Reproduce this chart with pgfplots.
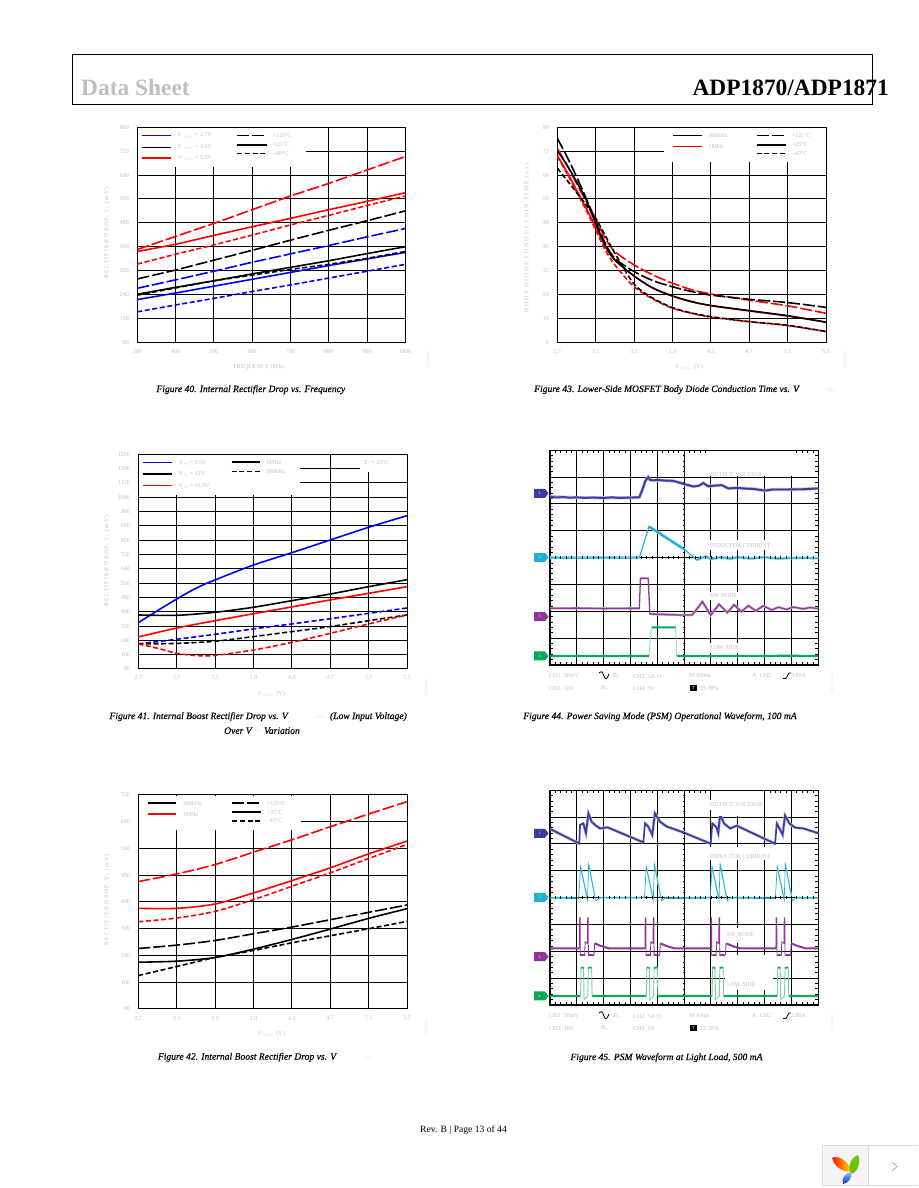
\documentclass[border=0pt]{standalone}
\usepackage{fontspec}
\setmainfont{Liberation Serif}
\usepackage{pgfplots}
\pgfplotsset{compat=1.18}
\definecolor{tg}{HTML}{BEBEBE}
\definecolor{tl}{HTML}{DDDDDD}
\definecolor{cha}{HTML}{3B3E9C}
\definecolor{chb}{HTML}{1CB4D4}
\definecolor{chc}{HTML}{90359A}
\definecolor{chd}{HTML}{0BA858}
\newcommand{\tickf}{\fontsize{6}{7}\selectfont}
\newcommand{\capf}{\fontsize{9.6}{11}\selectfont\itshape\addfontfeature{FakeBold=0.35}}
\newcommand{\subs}[1]{\raisebox{-1.3pt}{\textcolor{tl}{\fontsize{3.8}{4}\selectfont #1}}}
\newcommand{\lbl}[3]{\node[anchor=west,inner sep=0pt,text=tg,font=\tickf] at (#1,#2) {#3};}
\newcommand{\capt}[3]{\node[anchor=center,inner sep=0pt,font=\capf] at (#1,#2) {#3};}
\newcommand{\mask}[4]{\fill[white] (#1,#2) rectangle (#3,#4);}
\newcommand{\strip}[3]{\node[rotate=90,inner sep=0pt,text=tl,font=\fontsize{4}{4}\selectfont] at (#1,#2) {#3};}
\newcommand{\ylab}[3]{\node[rotate=90,inner sep=0pt,text=tg,font=\tickf\addfontfeature{LetterSpace=#3}] at (#1) {#2};}
\tikzset{
 ld/.style={dash pattern=on 12pt off 3pt},
 sd/.style={dash pattern=on 5pt off 2.6pt},
 ser/.style={line width=1.6pt},
}
\pgfplotsset{
 chart/.style={scale only axis,anchor=south west,
  axis line style={black,line width=1pt},
  grid=major,major grid style={black,line width=1pt},
  major tick length=0pt,
  xtick pos=bottom,ytick pos=left,
  /pgf/number format/assume math mode=true,
  /pgf/number format/1000 sep={},
  tick label style={font=\tickf,text=tg},
  xticklabel style={yshift=-3.5pt},
  yticklabel style={xshift=-5pt},
 },
 vx/.style={xmin=2.7,xmax=5.5,xtick={2.7,3.1,3.5,3.9,4.3,4.7,5.1,5.5},
  xticklabel style={/pgf/number format/.cd,fixed,fixed zerofill,precision=1,assume math mode=true}},
 scope/.style={scale only axis,anchor=south west,xmin=0,xmax=10,ymin=0,ymax=8,
  width=268.3pt,height=214.7pt,
  axis line style={black,line width=1.3pt},
  xtick={0,...,10},ytick={0,...,8},minor x tick num=4,minor y tick num=4,
  xticklabels={},yticklabels={},
  grid=major,major grid style={black,line width=1pt},
  major tick length=0pt,minor tick length=3pt,
  minor tick style={black,line width=.8pt},tick align=inside,
  unbounded coords=jump},
}
\begin{document}
\begin{tikzpicture}
\path[use as bounding box] (0,0) rectangle (918pt,1188pt);

% ---------- Figure 40
\begin{axis}[chart,at={(137.3pt,845.7pt)},width=268pt,height=215pt,
 xmin=300,xmax=1000,ymin=80,ymax=800,
 xtick={300,400,500,600,700,800,900,1000},ytick={80,160,240,320,400,480,560,640,720,800}]
\addplot[red,ser,ld] coordinates {(300,391)(500,478)(700,570)(800,612)(900,657)(1000,702)};
\addplot[red,ser] coordinates {(300,384)(400,408)(500,438)(600,467)(700,495)(800,524)(900,552)(1000,581)};
\addplot[red,ser,sd] coordinates {(300,342)(400,375)(500,406)(600,439)(700,473)(800,505)(900,538)(1000,570)};
\addplot[black,ser,ld] coordinates {(300,292)(400,322)(500,355)(600,388)(700,422)(800,455)(900,487)(1000,520)};
\addplot[blue,ser,ld] coordinates {(300,261)(400,289)(500,318)(600,348)(700,376)(800,404)(900,433)(1000,461)};
\addplot[blue,ser] coordinates {(300,223)(400,245)(500,268)(600,291)(700,314)(800,337)(900,359)(1000,381)};
\addplot[blue,ser,sd] coordinates {(300,182)(400,205)(500,227)(600,250)(700,272)(800,295)(900,318)(1000,341)};
\addplot[black,ser] coordinates {(300,241)(400,264)(500,286)(600,309)(700,331)(800,353)(900,377)(1000,400)};
\addplot[black,ser,sd] coordinates {(300,238)(500,286)(600,305)(700,324)(800,341)(900,361)(1000,384)};
\end{axis}

% ---------- Figure 43
\begin{axis}[chart,vx,at={(557.3pt,845.7pt)},width=268.7pt,height=215pt,
 ymin=8,ymax=80,ytick={8,16,24,32,40,48,56,64,72,80}]
\addplot[red,ser,ld,smooth] coordinates {(2.7,73)(2.8,67.4)(2.9,61.2)(3.0,55.3)(3.1,49.5)(3.2,42.8)(3.3,38.4)(3.5,33.9)(3.7,30.5)(3.9,27.8)(4.1,25.6)(4.3,24.2)(4.7,22.1)(5.1,20.2)(5.5,17.7)};
\addplot[red,ser,sd,smooth] coordinates {(2.7,70.2)(2.8,64.6)(2.9,58.4)(3.0,52.3)(3.1,45.6)(3.2,38.9)(3.3,33.9)(3.5,26.6)(3.7,22.4)(3.9,19.4)(4.1,17.7)(4.3,16.4)(4.7,14.9)(5.1,13.6)(5.5,11.6)};
\addplot[red,ser,smooth] coordinates {(2.7,70.5)(2.8,65.1)(2.9,59)(3.0,52.9)(3.1,46.7)(3.2,40)(3.3,35.6)(3.5,30.2)(3.7,26.1)(3.9,23.5)(4.1,21.6)(4.3,20.3)(4.7,18.5)(5.1,16.8)(5.5,14.8)};
\addplot[black,ser,ld,smooth] coordinates {(2.7,76.3)(2.8,70.2)(2.9,63.5)(3.0,56.2)(3.1,48.6)(3.2,41.1)(3.3,36.1)(3.5,31.7)(3.7,28.6)(3.9,26.6)(4.1,25)(4.3,23.8)(4.7,22.4)(5.1,21.3)(5.5,19.7)};
\addplot[black,ser,sd,smooth] coordinates {(2.7,66.3)(2.8,62.3)(2.9,58.2)(3.0,54)(3.1,49.5)(3.2,43.7)(3.3,37.8)(3.5,27.5)(3.7,22.7)(3.9,19.6)(4.1,17.8)(4.3,16.6)(4.7,14.9)(5.1,13.7)(5.5,11.6)};
\addplot[black,ser,smooth] coordinates {(2.7,72.1)(2.8,67.4)(2.9,61.8)(3.0,55.7)(3.1,47.8)(3.2,40.4)(3.3,35.6)(3.5,30.2)(3.7,26.1)(3.9,23.5)(4.1,21.6)(4.3,20.3)(4.7,18.6)(5.1,16.9)(5.5,14.7)};
\end{axis}

% ---------- Figure 41
\begin{axis}[chart,vx,at={(138.3pt,519pt)},width=268.7pt,height=214.7pt,
 ymin=80,ymax=1280,ytick={80,160,240,320,400,480,560,640,720,800,880,960,1040,1120,1200,1280}]
\addplot[blue,ser,smooth] coordinates {(2.7,339)(2.9,406)(3.1,471)(3.3,531)(3.5,578)(3.9,661)(4.3,730)(4.7,801)(5.1,872)(5.5,937)};
\addplot[black,ser,smooth] coordinates {(2.7,382)(3.1,380)(3.5,397)(3.9,425)(4.3,462)(4.7,499)(5.1,540)(5.5,579)};
\addplot[red,ser,smooth] coordinates {(2.7,259)(3.1,309)(3.5,350)(3.9,389)(4.3,427)(4.7,466)(5.1,503)(5.5,540)};
\addplot[blue,ser,sd,smooth] coordinates {(2.7,220)(3.1,246)(3.5,274)(3.9,304)(4.3,332)(4.7,361)(5.1,391)(5.5,421)};
\addplot[black,ser,sd,smooth] coordinates {(2.7,220)(3.1,223)(3.5,235)(3.9,261)(4.3,289)(4.7,317)(5.1,350)(5.5,382)};
\addplot[red,ser,sd,smooth] coordinates {(2.7,220)(2.9,196)(3.1,168)(3.3,155)(3.5,156)(3.9,186)(4.3,229)(4.7,279)(5.1,332)(5.5,382)};
\end{axis}

% ---------- Figure 42
\begin{axis}[chart,vx,at={(138.3pt,179pt)},width=268.7pt,height=214pt,
 ymin=80,ymax=720,ytick={80,160,240,320,400,480,560,640,720}]
\addplot[red,ser,ld,smooth] coordinates {(2.7,461)(3.1,484)(3.5,512)(3.9,549)(4.3,586)(4.7,625)(5.1,663)(5.5,700)};
\addplot[red,ser,smooth] coordinates {(2.7,381)(3.1,381)(3.5,394)(3.9,427)(4.3,464)(4.7,502)(5.1,544)(5.5,582)};
\addplot[red,ser,sd,smooth] coordinates {(2.7,341)(3.1,352)(3.5,372)(3.9,407)(4.3,447)(4.7,487)(5.1,530)(5.5,572)};
\addplot[black,ser,ld,smooth] coordinates {(2.7,261)(3.1,271)(3.5,285)(3.9,305)(4.3,325)(4.7,347)(5.1,369)(5.5,391)};
\addplot[black,ser,smooth] coordinates {(2.7,220)(3.1,223)(3.5,234)(3.9,259)(4.3,288)(4.7,319)(5.1,351)(5.5,380)};
\addplot[black,ser,sd,smooth] coordinates {(2.7,180)(3.1,207)(3.5,234)(3.9,255)(4.3,278)(4.7,299)(5.1,320)(5.5,342)};
\end{axis}

% ---------- Figure 44
\begin{axis}[scope,at={(550pt,523pt)}]
\addplot[cha!35,line width=3.2pt] coordinates {(0,6.27)(1,6.24)(2,6.23)(3,6.23)(3.33,6.25)(3.45,6.55)(3.55,6.85)(3.66,7.0)(3.72,6.9)(3.85,6.88)(4.3,6.87)(4.6,6.86)(4.97,6.75)(5.34,6.65)(5.55,6.68)(5.71,6.78)(5.9,6.66)(6.2,6.69)(6.4,6.7)(6.65,6.58)(7,6.6)(7.58,6.56)(8.01,6.5)(8.32,6.54)(8.82,6.54)(9.44,6.55)(10,6.58)};
\addplot[cha,line width=1.9pt] coordinates {(0,6.27)(0.25,6.24)(0.5,6.26)(0.75,6.23)(1,6.25)(1.3,6.22)(1.6,6.24)(2,6.22)(2.3,6.25)(2.6,6.22)(3,6.24)(3.33,6.25)(3.45,6.55)(3.55,6.85)(3.66,7.0)(3.72,6.9)(3.85,6.88)(4.0,6.9)(4.3,6.87)(4.6,6.86)(4.97,6.75)(5.34,6.65)(5.55,6.68)(5.71,6.78)(5.9,6.66)(6.2,6.69)(6.4,6.7)(6.65,6.58)(7,6.6)(7.3,6.57)(7.58,6.56)(8.01,6.5)(8.32,6.54)(8.82,6.54)(9.44,6.55)(10,6.58)};
\addplot[chb!45,line width=2.8pt] coordinates {(0,4.0)(3.33,4.0)(nan,nan)(3.69,5.16)(5.03,4.29)(nan,nan)(5.47,3.91)(5.8,4.05)(6,3.94)(6.4,4.02)(6.7,3.95)(7,4.02)(7.5,3.96)(8,4.02)(8.5,3.96)(9,3.99)(10,3.98)};
\addplot[chb,line width=1.2pt] coordinates {(0,4.0)(1,3.98)(2,4.0)(3,3.98)(3.33,4.0)(3.69,5.16)(5.03,4.29)(5.47,3.91)(5.8,4.05)(6,3.94)(6.4,4.02)(6.7,3.95)(7,4.02)(7.5,3.96)(8,4.02)(8.5,3.96)(9,3.99)(10,3.98)};
\addplot[chb,line width=2.2pt] coordinates {(3.69,5.16)(5.03,4.29)};
\addplot[chc!40,line width=2.6pt] coordinates {(0,2.11)(3.33,2.11)(nan,nan)(3.4,3.23)(3.66,3.23)(nan,nan)(3.72,1.9)(4.97,1.86)(5.3,1.86)(5.68,2.36)(5.99,1.86)(6.3,2.26)(6.61,1.95)(6.86,2.24)(7.14,1.99)(7.39,2.21)(7.66,2.02)(7.95,2.2)(8.26,2.05)(8.51,2.15)(8.82,2.07)(9.07,2.16)(9.44,2.09)(9.69,2.14)(10,2.1)};
\addplot[chc,line width=1.3pt] coordinates {(0,2.11)(1,2.12)(2,2.1)(3,2.11)(3.33,2.11)(3.37,3.23)(3.66,3.23)(3.72,1.9)(4.97,1.86)(5.3,1.86)(5.68,2.36)(5.99,1.86)(6.3,2.26)(6.61,1.95)(6.86,2.24)(7.14,1.99)(7.39,2.21)(7.66,2.02)(7.95,2.2)(8.26,2.05)(8.51,2.15)(8.82,2.07)(9.07,2.16)(9.44,2.09)(9.69,2.14)(10,2.1)};
\addplot[chd!45,line width=.9pt] coordinates {(3.69,0.335)(3.78,1.40)(nan,nan)(4.68,1.40)(4.72,0.335)};
\addplot[chd,line width=2.1pt] coordinates {(0,0.335)(1,0.34)(2,0.33)(3,0.335)(3.69,0.335)(nan,nan)(3.8,1.40)(4.68,1.40)(nan,nan)(4.74,0.335)(6,0.33)(7,0.34)(8,0.34)(9,0.345)(10,0.335)};
\end{axis}

% ---------- Figure 45
\begin{axis}[scope,at={(550pt,183pt)}]
\addplot[cha!35,line width=3pt] coordinates {(0,6.56)(1.09,6.02)(nan,nan)(1.24,6.77)(1.34,6.40)(1.43,7.14)(1.55,6.83)(1.68,6.71)(1.86,6.58)(2.14,6.62)(3.48,6.06)(nan,nan)(3.54,6.77)(3.66,6.65)(3.81,6.34)(3.91,7.14)(4.10,6.83)(4.35,6.65)(4.97,6.43)(5.99,6.01)(nan,nan)(6.05,6.77)(6.21,6.61)(6.27,6.40)(6.34,7.11)(6.48,6.77)(6.71,6.58)(6.96,6.68)(8.39,6.01)(nan,nan)(8.45,6.77)(8.55,6.58)(8.67,6.34)(8.76,7.06)(8.92,6.77)(9.13,6.61)(9.44,6.58)(10,6.40)};
\addplot[cha,line width=1.7pt] coordinates {(0,6.56)(1.09,6.02)(1.12,6.71)(1.24,6.77)(1.34,6.40)(1.43,7.14)(1.55,6.83)(1.68,6.71)(1.86,6.58)(2.14,6.62)(3.48,6.06)(3.54,6.77)(3.66,6.65)(3.81,6.34)(3.91,7.14)(4.10,6.83)(4.35,6.65)(4.97,6.43)(5.99,6.01)(6.05,6.77)(6.21,6.61)(6.27,6.40)(6.34,7.11)(6.48,6.77)(6.71,6.58)(6.96,6.68)(8.39,6.01)(8.45,6.77)(8.55,6.58)(8.67,6.34)(8.76,7.06)(8.92,6.77)(9.13,6.61)(9.44,6.58)(10,6.40)};
\addplot[chb,line width=1.6pt] coordinates {(0,4.0)(1.07,3.98)(nan,nan)(1.84,4.0)(3.52,4.0)(nan,nan)(4.29,3.98)(5.97,4.0)(nan,nan)(6.74,4.0)(8.40,3.98)(nan,nan)(9.17,4.0)(10,3.99)};
\addplot[chb!40,line width=1.6pt] coordinates {(1.14,5.15)(1.37,4.05)(nan,nan)(1.44,5.25)(1.67,4.05)(nan,nan)(3.59,5.15)(3.82,4.05)(nan,nan)(3.89,5.25)(4.12,4.05)(nan,nan)(6.04,5.15)(6.27,4.05)(nan,nan)(6.34,5.25)(6.57,4.05)(nan,nan)(8.47,5.15)(8.70,4.05)(nan,nan)(8.77,5.25)(9.00,4.05)};
\addplot[chb,line width=.7pt] coordinates {(1.07,4.0)(1.14,5.15)(1.37,4.05)(1.40,3.9)(1.44,5.25)(1.67,4.05)(1.72,3.88)(1.84,4.0)(nan,nan)(3.52,4.0)(3.59,5.15)(3.82,4.05)(3.85,3.9)(3.89,5.25)(4.12,4.05)(4.17,3.88)(4.29,4.0)(nan,nan)(5.97,4.0)(6.04,5.15)(6.27,4.05)(6.30,3.9)(6.34,5.25)(6.57,4.05)(6.62,3.88)(6.74,4.0)(nan,nan)(8.40,4.0)(8.47,5.15)(8.70,4.05)(8.73,3.9)(8.77,5.25)(9.00,4.05)(9.05,3.88)(9.17,4.0)};
\addplot[chc,line width=2pt] coordinates {(0,2.11)(1.09,2.11)(nan,nan)(1.66,2.3)(1.89,2.2)(2.19,2.11)(3.54,2.11)(nan,nan)(4.11,2.3)(4.34,2.2)(4.64,2.11)(5.99,2.11)(nan,nan)(6.56,2.3)(6.79,2.2)(7.09,2.11)(8.42,2.11)(nan,nan)(8.99,2.3)(9.22,2.2)(9.52,2.11)(10,2.11)};
\addplot[chc,line width=.9pt] coordinates {(1.09,2.11)(1.10,3.25)(1.12,3.25)(1.13,1.85)(1.29,1.85)(1.31,2.35)(1.39,2.3)(1.40,3.25)(1.42,3.25)(1.43,1.85)(1.64,1.85)(1.66,2.3)(nan,nan)(3.54,2.11)(3.55,3.25)(3.57,3.25)(3.58,1.85)(3.74,1.85)(3.76,2.35)(3.84,2.3)(3.85,3.25)(3.87,3.25)(3.88,1.85)(4.09,1.85)(4.11,2.3)(nan,nan)(5.99,2.11)(6.00,3.25)(6.02,3.25)(6.03,1.85)(6.19,1.85)(6.21,2.35)(6.29,2.3)(6.30,3.25)(6.32,3.25)(6.33,1.85)(6.54,1.85)(6.56,2.3)(nan,nan)(8.42,2.11)(8.43,3.25)(8.45,3.25)(8.46,1.85)(8.62,1.85)(8.64,2.35)(8.72,2.3)(8.73,3.25)(8.75,3.25)(8.76,1.85)(8.97,1.85)(8.99,2.3)};
\addplot[chc,line width=1.8pt] coordinates {(1.16,1.87)(1.28,1.85)(nan,nan)(1.46,1.87)(1.63,1.85)(nan,nan)(3.61,1.87)(3.73,1.85)(nan,nan)(3.91,1.87)(4.08,1.85)(nan,nan)(6.06,1.87)(6.18,1.85)(nan,nan)(6.36,1.87)(6.53,1.85)(nan,nan)(8.49,1.87)(8.61,1.85)(nan,nan)(8.79,1.87)(8.96,1.85)};
\addplot[chd,line width=2.1pt] coordinates {(0,0.335)(1.14,0.33)(nan,nan)(1.57,0.335)(3.59,0.34)(nan,nan)(4.02,0.335)(6.04,0.34)(nan,nan)(6.47,0.335)(8.47,0.34)(nan,nan)(8.90,0.335)(10,0.33)};
\addplot[chd!55,line width=.9pt] coordinates {(1.14,0.335)(1.16,1.4)(1.25,1.4)(1.27,0.2)(1.41,0.335)(1.43,1.4)(1.55,1.4)(1.57,0.335)(nan,nan)(3.59,0.335)(3.61,1.4)(3.70,1.4)(3.72,0.2)(3.86,0.335)(3.88,1.4)(4.00,1.4)(4.02,0.335)(nan,nan)(6.04,0.335)(6.06,1.4)(6.15,1.4)(6.17,0.2)(6.31,0.335)(6.33,1.4)(6.45,1.4)(6.47,0.335)(nan,nan)(8.47,0.335)(8.49,1.4)(8.58,1.4)(8.60,0.2)(8.74,0.335)(8.76,1.4)(8.88,1.4)(8.90,0.335)};
\addplot[chd,line width=1.7pt] coordinates {(1.16,1.4)(1.25,1.38)(nan,nan)(1.43,1.38)(1.55,1.4)(nan,nan)(3.61,1.4)(3.70,1.38)(nan,nan)(3.88,1.38)(4.00,1.4)(nan,nan)(6.06,1.4)(6.15,1.38)(nan,nan)(6.33,1.38)(6.45,1.4)(nan,nan)(8.49,1.4)(8.58,1.38)(nan,nan)(8.76,1.38)(8.88,1.4)};
\end{axis}

% ---------- everything in page pixel coordinates
\begin{scope}[x=1pt,y=-1pt,shift={(0pt,1188pt)}]
% header
\draw[black,line width=1pt] (72,54.3) rectangle (872.5,104.3);
\node[anchor=base west,inner sep=0pt,text=black!25,font=\fontsize{23.4}{24}\selectfont\bfseries] at (81,96) {Data Sheet};
\node[anchor=base east,inner sep=0pt,font=\fontsize{23.4}{24}\selectfont\bfseries] at (889,96) {ADP1870/ADP1871};

% masks behind the legends
\mask{138}{128}{306}{167.3}
\mask{664}{128}{825.5}{161.7}
\mask{139}{455}{300}{494.7}
\mask{360}{455}{406.5}{471.7}
\mask{139}{796}{301}{830}
% masks behind scope annotations
\mask{707}{451}{796}{476.5}
\mask{707}{540}{772}{550}
\mask{708}{592}{740}{600}
\mask{708}{643}{742}{653}
\mask{713}{791}{762}{816.5}
\mask{708}{800}{713}{810}
\mask{708}{847}{772}{860}
\mask{725}{928}{755}{943}
\mask{725}{955}{773}{990}

% centre graticule ticks of the two scope screens
\foreach \oy in {557.7,897.7}{\foreach \i in {1,...,49}{\draw[black,line width=.7pt] (550+\i*5.366,\oy-1.6)--(550+\i*5.366,\oy+1.6);}}
\foreach \oy in {450.3,790.3}{\foreach \i in {1,...,39}{\draw[black,line width=.7pt] (682.6,\oy+\i*5.367)--(685.4,\oy+\i*5.367);}}

% Fig 40 legend & labels
\draw[blue,ser] (141.7,135.7)--(170.7,135.7);
\draw[black,line width=.8pt] (141.7,147)--(170.7,147);
\draw[red,ser] (141.7,158.3)--(170.7,158.3);
\lbl{177.3}{135.7}{V \subs{VREG} = 2.7V}
\lbl{177.3}{147}{V \subs{VREG} = 3.6V}
\lbl{177.3}{158.3}{V \subs{VREG} = 5.5V}
\draw[black,ser,ld] (237.3,135.7)--(266.7,135.7);
\draw[black,ser] (237.3,145)--(266.7,145);
\draw[black,ser,sd] (237.3,153.7)--(266.7,153.7);
\lbl{272.7}{135.7}{+125°C}
\lbl{272.7}{145}{+25°C}
\lbl{272.7}{153.7}{–40°C}
\ylab{107,233}{RECTIFIER DROP, V\,\subs{F} (mV)}{18}
\node[inner sep=0pt,text=tg,font=\tickf] at (259,367) {FREQUENCY (kHz)};
\strip{428}{360}{08730-040}
\capt{250.8}{389.7}{Figure 40. Internal Rectifier Drop vs. Frequency}

% Fig 43
\draw[black,ser] (673.3,135.7)--(701.7,135.7);
\draw[red,ser] (673.3,146.7)--(701.7,146.7);
\lbl{708.3}{135.7}{300kHz}
\lbl{708.3}{146.7}{1MHz}
\draw[black,ser,ld] (756.7,135.7)--(786,135.7);
\draw[black,ser] (756.7,145)--(786,145);
\draw[black,ser,sd] (756.7,153.7)--(786,153.7);
\lbl{791.7}{135.7}{+125°C}
\lbl{791.7}{145}{+25°C}
\lbl{791.7}{153.7}{–40°C}
\ylab{527,238}{BODY DIODE CONDUCTION TIME (ns)}{28}
\node[inner sep=0pt,text=tg,font=\tickf] at (689,367) {V\,\subs{VREG}\,\, (V)};
\strip{845}{360}{08730-043}
\node[anchor=west,inner sep=0pt,font=\capf] at (534,389.7) {Figure 43. Lower-Side MOSFET Body Diode Conduction Time vs. V};
\node[anchor=west,inner sep=0pt,text=tl,font=\fontsize{4}{4}\selectfont] at (825,390.5) {VREG};

% Fig 41
\draw[blue,ser] (143.3,462.7)--(171.7,462.7);
\draw[black,ser] (143.3,474)--(171.7,474);
\draw[red,ser] (143.3,485.7)--(171.7,485.7);
\lbl{178.3}{462.7}{V \subs{IN} = 5.5V}
\lbl{178.3}{474}{V \subs{IN} = 13V}
\lbl{178.3}{485.7}{V \subs{IN} = 16.5V}
\draw[black,ser] (231.7,462.3)--(260,462.3);
\draw[black,ser,sd] (231.7,471.7)--(260,471.7);
\lbl{266}{462.3}{1MHz}
\lbl{266}{471.7}{300kHz}
\lbl{363.3}{463.3}{T\subs{A} = 25°C}
\ylab{107,561}{RECTIFIER DROP, V\,\subs{F} (mV)}{18}
\node[inner sep=0pt,text=tg,font=\tickf] at (271,694) {V\,\subs{VREG}\,\, (V)};
\strip{426}{688}{08730-041}
\node[anchor=west,inner sep=0pt,font=\capf] at (109.3,716.7) {Figure 41. Internal Boost Rectifier Drop vs. V};
\node[anchor=west,inner sep=0pt,text=tl,font=\fontsize{4}{4}\selectfont] at (315,717.5) {VREG};
\node[anchor=east,inner sep=0pt,font=\capf] at (407,716.7) {(Low Input Voltage)};
\node[anchor=west,inner sep=0pt,font=\capf] at (224,730.7) {Over V};
\node[anchor=west,inner sep=0pt,text=tl,font=\fontsize{4}{4}\selectfont] at (255,731.5) {IN};
\node[anchor=east,inner sep=0pt,font=\capf] at (300,730.7) {Variation};

% Fig 42
\draw[black,ser] (148.3,803.3)--(176,803.3);
\draw[red,ser] (148.3,814.3)--(176,814.3);
\lbl{182.7}{803.3}{300kHz}
\lbl{182.7}{814.3}{1MHz}
\draw[black,ser,ld] (232.3,803.3)--(261,803.3);
\draw[black,ser] (232.3,812.3)--(261,812.3);
\draw[black,ser,sd] (232.3,821)--(261,821);
\lbl{266.7}{803.3}{+125°C}
\lbl{266.7}{812.3}{+25°C}
\lbl{266.7}{821}{–40°C}
\ylab{107,900}{RECTIFIER DROP, V\,\subs{F} (mV)}{18}
\node[inner sep=0pt,text=tg,font=\tickf] at (271,1034) {V\,\subs{VREG}\,\, (V)};
\strip{426}{1028}{08730-042}
\node[anchor=west,inner sep=0pt,font=\capf] at (157.7,1057.3) {Figure 42. Internal Boost Rectifier Drop vs. V};
\node[anchor=west,inner sep=0pt,text=tl,font=\fontsize{4}{4}\selectfont] at (363,1058) {VREG};

% scope channel markers
\foreach \yy/\cc/\dd in {493.3/cha/1,557.3/chb/2,616.7/chc/3,656/chd/4,833.3/cha/1,897.3/chb/2,956.7/chc/3,996/chd/4}{
 \fill[\cc] (534,\yy-4.5)--(545,\yy-4.5)--(548.5,\yy)--(545,\yy+4.5)--(534,\yy+4.5)--cycle;
 \node[text=white,inner sep=0pt,font=\fontsize{4}{4}\selectfont] at (539.5,\yy) {\dd};
}
% Fig 44 text
\lbl{710}{475}{OUTPUT VOLTAGE}
\lbl{710}{545.7}{INDUCTOR CURRENT}
\lbl{710}{596}{SW NODE}
\lbl{710}{647.7}{LOW SIDE}
\strip{832}{683}{08730-044}
\capt{660}{716.7}{Figure 44. Power Saving Mode (PSM) Operational Waveform, 100 mA}
% Fig 45 text
\lbl{710}{805}{OUTPUT VOLTAGE}
\lbl{710}{856.7}{INDUCTOR CURRENT}
\lbl{726.7}{935}{SW NODE}
\lbl{727}{985}{LOW SIDE}
\strip{832}{1023}{08730-045}
\capt{666.5}{1057.7}{Figure 45. PSM Waveform at Light Load, 500 mA}
% scope readouts
\foreach \oy/\tm in {0/{M 400ns},340/{M 4.0µs}}{
 \begin{scope}[shift={(0,\oy)}]
 \lbl{549}{676}{CH1\;\;50mV}
 \lbl{549}{688.3}{CH3\;\;10V}
 \draw[black,line width=.8pt] (599,673) .. controls (602,671) and (602,671) .. (604,676) .. controls (605,680) and (607,680) .. (609,674);
 \lbl{613}{676}{B\subs{W}}
 \lbl{601}{688.3}{B\subs{W}}
 \lbl{633}{676}{CH2\;\;5A $\Omega$}
 \lbl{633}{688.3}{CH4\;\;5V}
 \lbl{689}{676}{\tm}
 \fill[black] (690,685) rectangle (697,691);
 \node[text=white,inner sep=0pt,font=\fontsize{4.5}{5}\selectfont] at (693.5,688) {T};
 \lbl{700}{688.3}{35.38\%}
 \lbl{752}{676}{A\;\;CH2}
 \draw[black,line width=.8pt] (783,678.5)--(786,678.5) .. controls (787,675) .. (789,673)--(791,673);
 \lbl{791}{676}{3.80A}
 \end{scope}
}
% footer
\node[anchor=center,inner sep=0pt,font=\fontsize{9.6}{11}\selectfont] at (463.5,1130) {Rev. B | Page 13 of 44};
% corner widget
\fill[black!4] (822.3,1145.7) rectangle (868.3,1185);
\draw[black!14,line width=.8pt] (918,1145.7)--(822.3,1145.7)--(822.3,1185)--(918,1185);
\draw[black!14,line width=.8pt] (868.3,1145.7)--(868.3,1185);
\shade[left color=red!75!orange,right color=yellow!75!orange] (832.5,1157.5) .. controls (840,1155) and (850,1163) .. (851.5,1172) .. controls (842,1172) and (833,1166) .. (832.5,1157.5)--cycle;
\shade[top color=green!60!yellow!85!black,bottom color=yellow!70!green!70!black] (858,1155) .. controls (861,1162) and (858,1171) .. (852,1174) .. controls (847,1168) and (850,1158) .. (858,1155)--cycle;
\shade[top color=cyan!45!blue!45,bottom color=blue!75!cyan!80!black] (851.5,1172) .. controls (852,1179) and (848,1183) .. (843,1184) .. controls (841,1178) and (845,1173) .. (851.5,1172)--cycle;
\draw[black!35,line width=.8pt] (892,1162)--(897,1166.5)--(892,1171);
\end{scope}
\end{tikzpicture}
\end{document}
